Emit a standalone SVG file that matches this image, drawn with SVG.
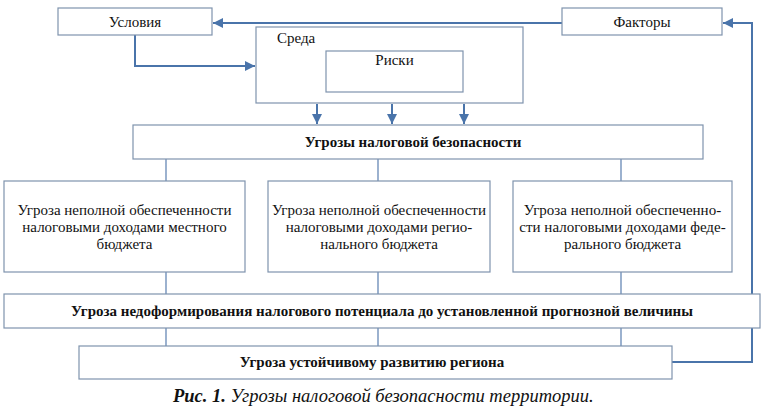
<svg xmlns="http://www.w3.org/2000/svg" width="767" height="410" viewBox="0 0 767 410">
<defs>
<style>
.box{fill:#ffffff;stroke:#7f93ad;stroke-width:1.2}
.t{font-family:"Liberation Serif","Times New Roman",serif;font-size:15px;fill:#111;text-anchor:middle}
.b{font-weight:bold;font-size:15px}
.arr{fill:none;stroke:#4a74aa;stroke-width:2}
.ln{fill:none;stroke:#5a7fb0;stroke-width:1.2}
.cap{font-family:"Liberation Serif","Times New Roman",serif;font-size:18.5px;font-style:italic;fill:#111}
</style>
<marker id="ah" viewBox="0 0 10 10" refX="10" refY="5" markerWidth="5" markerHeight="5" orient="auto" markerUnits="strokeWidth">
<path d="M0,0 L10,5 L0,10 z" fill="#4a74aa"/>
</marker>
</defs>
<rect width="767" height="410" fill="#ffffff"/>

<g id="connectors">
<path class="arr" d="M562,23 H213" marker-end="url(#ah)"/>
<path class="arr" d="M672,362 H752 V23 H723" marker-end="url(#ah)"/>
<path class="arr" d="M135,35 V66 H255" marker-end="url(#ah)"/>
<path class="arr" d="M367,31 V50" marker-end="url(#ah)"/>
<path class="arr" d="M395,31 V50" marker-end="url(#ah)"/>
<path class="arr" d="M431,31 V50" marker-end="url(#ah)"/>
<path class="arr" d="M317,104 V124" marker-end="url(#ah)"/>
<path class="arr" d="M392,104 V124" marker-end="url(#ah)"/>
<path class="arr" d="M464,104 V124" marker-end="url(#ah)"/>
<path class="ln" d="M166,159 V181 M378,159 V181 M621,159 V181"/>
<path class="ln" d="M166,272 V294 M378,272 V294 M621,272 V294"/>
<path class="ln" d="M166,328 V346 M378,328 V346 M621,328 V346"/>
</g>

<g id="usloviya">
<rect class="box" x="58" y="8" width="154" height="27"/>
<text class="t" x="135" y="27">Условия</text>
</g>
<g id="faktory">
<rect class="box" x="562" y="8" width="160" height="27"/>
<text class="t" x="642" y="27">Факторы</text>
</g>
<g id="sreda">
<rect class="box" x="256" y="27" width="267" height="76"/>
<text class="t" x="277" y="43" style="text-anchor:start">Среда</text>
</g>
<g id="riski">
<rect class="box" x="326" y="51" width="137" height="41"/>
<text class="t" x="394.5" y="65">Риски</text>
</g>
<g id="ugrozy">
<rect class="box" x="133" y="125" width="570" height="34"/>
<text class="t b" x="413" y="147">Угрозы налоговой безопасности</text>
</g>
<g id="mestny">
<rect class="box" x="4" y="181" width="241" height="91"/>
<text class="t" x="124.5" y="215">Угроза неполной обеспеченности</text>
<text class="t" x="124.5" y="232">налоговыми доходами местного</text>
<text class="t" x="124.5" y="249">бюджета</text>
</g>
<g id="regionalny">
<rect class="box" x="268" y="181" width="222" height="91"/>
<text class="t" x="379" y="215">Угроза неполной обеспеченности</text>
<text class="t" x="379" y="232">налоговыми доходами регио-</text>
<text class="t" x="379" y="249">нального бюджета</text>
</g>
<g id="federalny">
<rect class="box" x="513" y="181" width="219" height="91"/>
<text class="t" x="622.5" y="215">Угроза неполной обеспеченно-</text>
<text class="t" x="622.5" y="232">сти налоговыми доходами феде-</text>
<text class="t" x="622.5" y="249">рального бюджета</text>
</g>
<g id="nedoform">
<rect class="box" x="4" y="294" width="756" height="34"/>
<text class="t b" x="382" y="316">Угроза недоформирования налогового потенциала до установленной прогнозной величины</text>
</g>
<g id="razvitie">
<rect class="box" x="79" y="346" width="593" height="33"/>
<text class="t b" x="372" y="367">Угроза устойчивому развитию региона</text>
</g>
<text class="cap" x="173" y="402"><tspan font-weight="bold">Рис. 1.</tspan> Угрозы налоговой безопасности территории.</text>
</svg>
